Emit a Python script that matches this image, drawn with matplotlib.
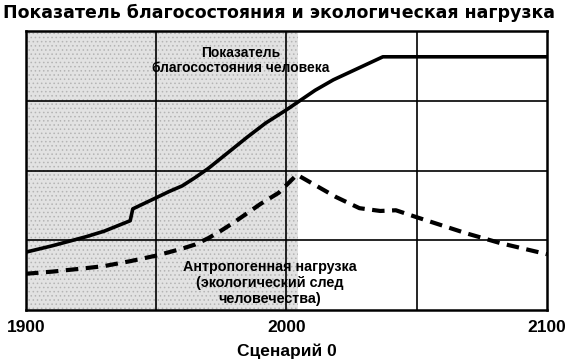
import matplotlib
matplotlib.use("Agg")
import matplotlib.pyplot as plt

plt.rcParams['font.family'] = ['Liberation Sans', 'DejaVu Sans']
plt.rcParams['hatch.linewidth'] = 0.6

# welfare index (solid)
welfare_years = [1900, 1910, 1923, 1930, 1940, 1941, 1950, 1955, 1960, 1965,
                 1970, 1975, 1980, 1985, 1992, 2000, 2011, 2018, 2037, 2100]
welfare_vals = [0.83, 0.92, 1.05, 1.13, 1.28, 1.45, 1.61, 1.70, 1.78, 1.90,
                2.03, 2.18, 2.33, 2.48, 2.68, 2.87, 3.15, 3.30, 3.63, 3.63]

# ecological footprint (dashed)
load_years = [1900, 1910, 1923, 1930, 1940, 1950, 1955, 1960, 1965, 1970,
              1975, 1980, 1985, 1990, 1997, 2004, 2019, 2028, 2036, 2042,
              2050, 2069, 2082, 2100]
load_vals = [0.52, 0.55, 0.60, 0.63, 0.70, 0.78, 0.83, 0.88, 0.94, 1.03,
             1.14, 1.26, 1.39, 1.52, 1.68, 1.94, 1.62, 1.46, 1.42, 1.43,
             1.33, 1.10, 0.96, 0.80]

xticks = [1900, 2000, 2100]

fig = plt.figure(figsize=(5.7, 3.62), dpi=100)
ax = fig.add_axes([0.0456, 0.1436, 0.914, 0.7708])

# grey history zone
ax.axvspan(1900, 2004.5, facecolor='#e2e2e2', edgecolor='#b4b4b4',
           hatch='....', linewidth=0, zorder=0)

for x in [1950, 2000, 2050]:
    ax.axvline(x, color='black', lw=1.2, zorder=1)
for y in [1, 2, 3]:
    ax.axhline(y, color='black', lw=1.2, zorder=1)

ax.plot(welfare_years, welfare_vals, color='black', lw=2.6,
        solid_capstyle='butt', zorder=3)
ax.plot(load_years, load_vals, color='black', lw=3.0,
        linestyle=(0, (3, 1.8)), zorder=3)

ax.set_xlim(1900, 2100)
ax.set_ylim(0, 4)
ax.set_xticks(xticks)
ax.set_xticklabels([str(t) for t in xticks], fontsize=12.5, fontweight='bold')
ax.set_yticks([])
ax.tick_params(axis='x', length=0, pad=7)
for s in ax.spines.values():
    s.set_linewidth(1.8)

ax.text(1982.5, 3.58, 'Показатель\nблагосостояния человека', ha='center',
        va='center', fontsize=10, fontweight='bold', linespacing=1.1, zorder=4)
ax.text(1993.5, 0.39, 'Антропогенная нагрузка\n(экологический след\nчеловечества)',
        ha='center', va='center', fontsize=10.4, fontweight='bold',
        linespacing=1.2, zorder=4)

ax.set_xlabel('Сценарий 0', fontsize=12.5, fontweight='bold', labelpad=6)
fig.text(0.006, 0.963, 'Показатель благосостояния и экологическая нагрузка',
         ha='left', va='center', fontsize=12.55, fontweight='bold',
         family=['DejaVu Sans'])

fig.savefig('out.png', dpi=100)
